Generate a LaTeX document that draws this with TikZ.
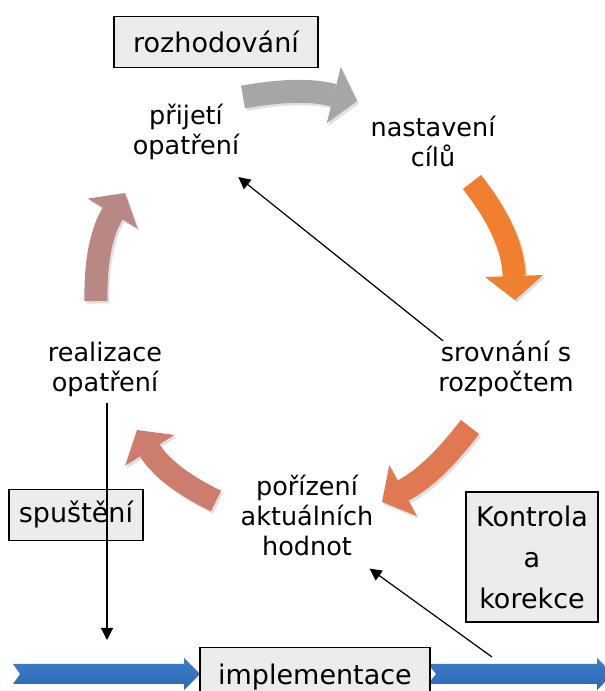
\documentclass[tikz,border=0pt]{standalone}
\usepackage{fontspec}
\setmainfont{DejaVu Sans}
\usepackage{xcolor}
\usetikzlibrary{arrows.meta, positioning, calc}

\definecolor{boxfill}{RGB}{236,236,236}
\definecolor{bandtop}{RGB}{62,124,198}
\definecolor{bandmid}{RGB}{30,86,156}
\definecolor{bandbot}{RGB}{46,106,182}
\definecolor{cycgray}{RGB}{166,166,166}
\definecolor{cycorange}{RGB}{240,128,48}
\definecolor{cyccoral}{RGB}{224,120,82}
\definecolor{cycsalmon}{RGB}{205,125,110}
\definecolor{cycrose}{RGB}{185,135,132}

\begin{document}
\begin{tikzpicture}[x=1pt, y=1pt,
    lbl/.style={align=center, inner sep=0pt, font=\fontsize{25.5}{30}\selectfont},
    box/.style={draw, fill=boxfill, line width=1.8pt, inner sep=0pt, align=center,
        font=\fontsize{27}{41}\selectfont},
    conn/.style={line width=1.2pt, -{Triangle[length=12pt, width=12pt]}},
    cyc/.style={line width=23pt, -{Triangle[width=58pt, length=24pt, line width=0pt]}},
    band/.style={top color=bandtop, middle color=bandmid, bottom color=bandbot}]
    \useasboundingbox (0,0) rectangle (605,691);

    % timeline
    \shade[band] (13,27) -- (184,27) -- (184,33) -- (200,17) -- (184,1) -- (184,7)
        -- (13,7) -- (20,17) -- cycle;
    \shade[band] (428,27) -- (597,27) -- (597,33) -- (613,17) -- (597,1) -- (597,7)
        -- (428,7) -- (436,17) -- cycle;

    % boxes
    \node[box, minimum width=204, minimum height=51] (rozhod) at (216,649) {rozhodování};
    \node[box, minimum width=134, minimum height=51] (spust) at (76,176) {spuštění};
    \node[box, minimum width=132, minimum height=130] (kontrola) at (532,134) {Kontrola\\a\\korekce};
    \node[box, minimum width=230, minimum height=60] (impl) at (315,13.5) {implementace};

    % cycle
    \foreach \c/\p in {
        cycgray/{(243,594) to[bend left=12] (357,590)},
        cycorange/{(472,509) to[bend left=18] (515,391)},
        cyccoral/{(470,264) to[bend left=12] (382,189)},
        cycsalmon/{(216,190) to[bend left=16] (137,261)},
        cycrose/{(96,390) to[bend left=16] (125,498)}} {
        \draw[cyc, black, opacity=.12, transform canvas={shift={(2pt,-2.5pt)}}] \p;
        \draw[cyc, \c] \p;
    }

    \node[lbl] (prijeti) at (186,559) {přijetí\\opatření};
    \node[lbl] (nastav) at (433,550) {nastavení\\cílů};
    \node[lbl] (srovnani) at (506,322) {srovnání s\\rozpočtem};
    \node[lbl] (porizeni) at (307,176) {pořízení\\aktuálních\\hodnot};
    \node[lbl] (realiz) at (105,322) {realizace\\opatření};

    \coordinate (spFoot) at (107,51);
    \coordinate (kFoot) at (492,34);

    \draw[conn] ([xshift=5pt]srovnani.north west) -- ([shift={(-1pt,-17pt)}]prijeti.south east);
    \draw[conn] (realiz.south -| spFoot) ++(0,-6) -- (spFoot);
    \draw[conn] (kFoot) -- ([shift={(-4pt,-13pt)}]porizeni.south east);
\end{tikzpicture}
\end{document}
